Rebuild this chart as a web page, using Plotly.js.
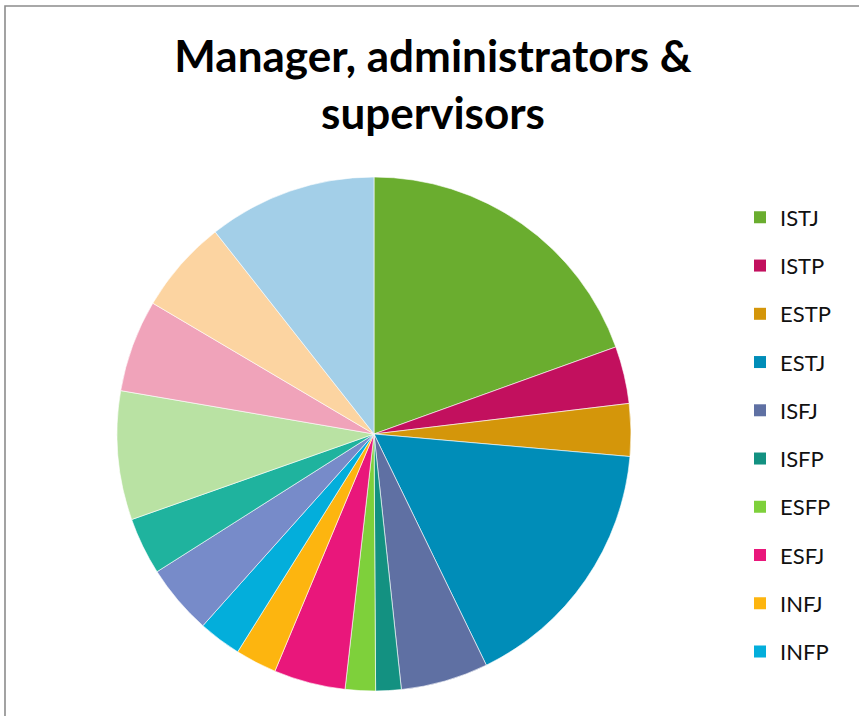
<!DOCTYPE html>
<html>
<head>
<meta charset="utf-8">
<script src="https://cdn.plot.ly/plotly-3.0.1.min.js"></script>
<style>
  html, body { margin: 0; padding: 0; background: #ffffff; }
  #chart { width: 859px; height: 716px; }
</style>
</head>
<body>
<div id="chart"></div>
<script>
// Personality types (clockwise from 12 o'clock)
const types = ['ISTJ', 'ISTP', 'ESTP', 'ESTJ', 'ISFJ', 'ISFP', 'ESFP', 'ESFJ',
               'INFJ', 'INFP', 'ENFP', 'ENFJ', 'INTJ', 'INTP', 'ENTP', 'ENTJ'];
// Share of managers, administrators & supervisors (%)
const shares = [19.5, 3.6, 3.3, 16.4, 5.5, 1.6, 1.9, 4.5,
                2.6, 2.7, 4.4, 3.6, 8.1, 5.8, 5.9, 10.6];
const sliceColors = ['#6AAD2F', '#C2105E', '#D4960A', '#008DB8', '#5F70A3', '#139181',
                     '#7ED03B', '#E9177B', '#FDB50F', '#03AEDB', '#778BC9', '#1FB39E',
                     '#B9E2A3', '#F0A3BA', '#FCD4A1', '#A3CFE8'];
// the reference legend only lists the first ten types (the rest did not fit)
const legendCount = 10;
const chartTitle = 'Manager, administrators &<br>supervisors';

// legend entries: a tall row (large base font) holding a 22px type name
const legendLabel = t => '<span style="font-size:22px;baseline-shift:5px">' + t + '</span>';
const sliceLabels = types.map(legendLabel);

const M = {l: 117, t: 177, r: 228, b: 25};
const pw = 859 - M.l - M.r, ph = 716 - M.t - M.b;
const px = v => (v - M.l) / pw;
const py = v => 1 - (v - M.t) / ph;

const pieTrace = {
  type: 'pie',
  labels: sliceLabels,
  values: shares,
  sort: false,
  direction: 'clockwise',
  rotation: 0,
  textinfo: 'none',
  hoverinfo: 'percent',
  showlegend: false,
  marker: { colors: sliceColors, line: { color: '#ffffff', width: 0.6 } },
  domain: { x: [0, 1], y: [0, 1] }
};

// legend-only companion trace (practically zero-size), carrying the listed entries
const legendTrace = {
  type: 'pie',
  labels: sliceLabels.slice(0, legendCount),
  values: shares.slice(0, legendCount),
  sort: false,
  direction: 'clockwise',
  textinfo: 'none',
  hoverinfo: 'skip',
  showlegend: true,
  marker: { colors: sliceColors.slice(0, legendCount), line: { width: 0 } },
  domain: { x: [0.4995, 0.5005], y: [0.4995, 0.5005] }
};

const layout = {
  width: 859,
  height: 716,
  margin: { l: M.l, r: M.r, t: M.t, b: M.b, autoexpand: false },
  paper_bgcolor: '#ffffff',
  plot_bgcolor: '#ffffff',
  font: { family: 'Lato, "Open Sans", sans-serif', color: '#000000' },
  title: {
    text: chartTitle,
    font: { family: 'Lato, "Open Sans", sans-serif', size: 44, color: '#000000', weight: 'bold' },
    x: 433 / 859,
    xanchor: 'center',
    xref: 'container',
    yref: 'container',
    y: 1 - 72 / 716,
    yanchor: 'top'
  },
  showlegend: true,
  legend: {
    x: px(740),
    xanchor: 'left',
    y: py(188.2),
    yanchor: 'top',
    maxheight: 3000,
    font: { family: 'Lato, "Open Sans", sans-serif', size: 34.8, color: '#111111' },
    bgcolor: 'rgba(0,0,0,0)',
    borderwidth: 0,
    itemclick: false,
    itemdoubleclick: false
  },
  shapes: [{
    type: 'rect',
    xref: 'paper', yref: 'paper',
    x0: px(5), x1: px(900),
    y0: py(760), y1: py(6),
    line: { color: '#8C8C8C', width: 1.6 },
    fillcolor: 'rgba(0,0,0,0)',
    layer: 'below'
  }]
};

Plotly.newPlot('chart', [pieTrace, legendTrace], layout, { displayModeBar: false, staticPlot: true });
</script>
</body>
</html>
